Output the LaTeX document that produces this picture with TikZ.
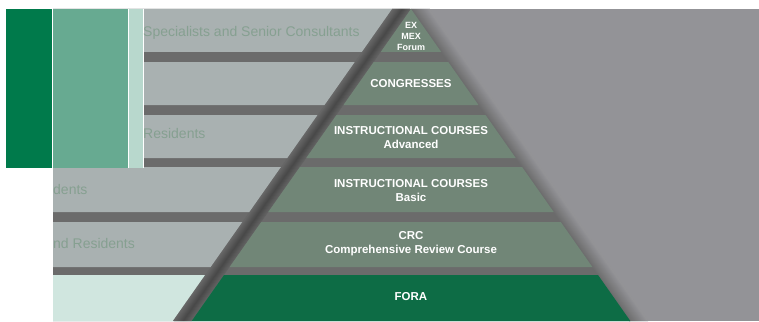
\documentclass[tikz,border=0pt]{standalone}
\usepackage{fontspec}
\setmainfont{Liberation Sans}
\definecolor{panelgray}{HTML}{939397}
\definecolor{gapgray}{HTML}{6B6B6B}
\definecolor{bandgray}{HTML}{A9B1B1}
\definecolor{bandmint}{HTML}{D0E6DF}
\definecolor{tiergreen}{HTML}{718677}
\definecolor{foragreen}{HTML}{0D6C45}
\definecolor{bardark}{HTML}{007A4B}
\definecolor{barmid}{HTML}{67AA91}
\definecolor{barlight}{HTML}{B8D8CD}
\definecolor{labelgray}{HTML}{86A091}
\tikzset{
  tiertext/.style={text=white, inner sep=0pt, align=center,
    font=\fontsize{11.5}{14}\selectfont\bfseries},
  bandtext/.style={text=labelgray, inner sep=0pt, anchor=base west,
    font=\fontsize{14}{16}\selectfont},
}
\begin{document}
\begin{tikzpicture}[x=1pt,y=-1pt]
\useasboundingbox (0,0) rectangle (759,321);
\fill[white] (0,0) rectangle (759,321);
% grey panel and dark ground behind the steps
\fill[panelgray] (53,9) rectangle (759,321);
\fill[gapgray] (53,9) -- (411,9) -- (630,321) -- (53,321) -- cycle;
% shadow on the right of the pyramid
\foreach \i in {0,...,18}{
  \pgfmathtruncatemacro\mix{100-5.5*\i}
  \draw[line width=1.5pt, gapgray!\mix!panelgray] (411+\i,9) -- (630+\i,321);
}
% shadow between bands and pyramid
\foreach \i in {1,...,18}{
  \pgfmathtruncatemacro\mix{32-3*abs(\i-9)}
  \draw[line width=1.5pt, black!\mix!gapgray] (411-\i,9) -- (191.7-\i,321);
}
% bands on the left
\foreach \yt/\yb in {9/52, 62/105, 115/158, 167/212, 222/267}
  \fill[bandgray] (53,\yt) -- ({392-0.703*(\yt-9)},\yt)
    -- ({392-0.703*(\yb-9)},\yb) -- (53,\yb) -- cycle;
\fill[bandmint] (53,275) -- ({392-0.703*266},275) -- ({392-0.703*312},321) -- (53,321) -- cycle;
% steps of the pyramid
\fill[tiergreen] (411,9) -- ({411+0.703*43},52) -- ({411-0.703*43},52) -- cycle;
\foreach \yt/\yb in {62/105, 115/158, 167/212, 222/267}
  \fill[tiergreen] ({411-0.703*(\yt-9)},\yt) -- ({411+0.703*(\yt-9)},\yt)
    -- ({411+0.703*(\yb-9)},\yb) -- ({411-0.703*(\yb-9)},\yb) -- cycle;
\fill[foragreen] ({411-0.703*266},275) -- ({411+0.703*266},275)
  -- ({411+0.703*312},321) -- ({411-0.703*312},321) -- cycle;
% green bars
\fill[white] (6,9) rectangle (144,168);
\fill[bardark] (6,9) rectangle (52,168);
\fill[barmid] (53,9) rectangle (128,168);
\fill[barlight] (129,9) rectangle (142.5,168);
% band labels
\node[bandtext] (specialists) at (143,36.5) {Specialists and Senior Consultants};
\node[bandtext] (residents) at (143,138) {Residents};
\node[bandtext] (students) at (53,194) {dents};
\node[bandtext] (specres) at (53,248.5) {nd Residents};
% step labels
\node[tiertext, font=\fontsize{9}{11}\selectfont\bfseries] (exmex) at (411,36) {EX\\MEX\\Forum};
\node[tiertext] (congresses) at (411,84) {CONGRESSES};
\node[tiertext] (advanced) at (411,138) {INSTRUCTIONAL COURSES\\Advanced};
\node[tiertext] (basic) at (411,191) {INSTRUCTIONAL COURSES\\Basic};
\node[tiertext] (crc) at (411,243.5) {CRC\\Comprehensive Review Course};
\node[tiertext] (fora) at (411,297) {FORA};
\end{tikzpicture}
\end{document}
